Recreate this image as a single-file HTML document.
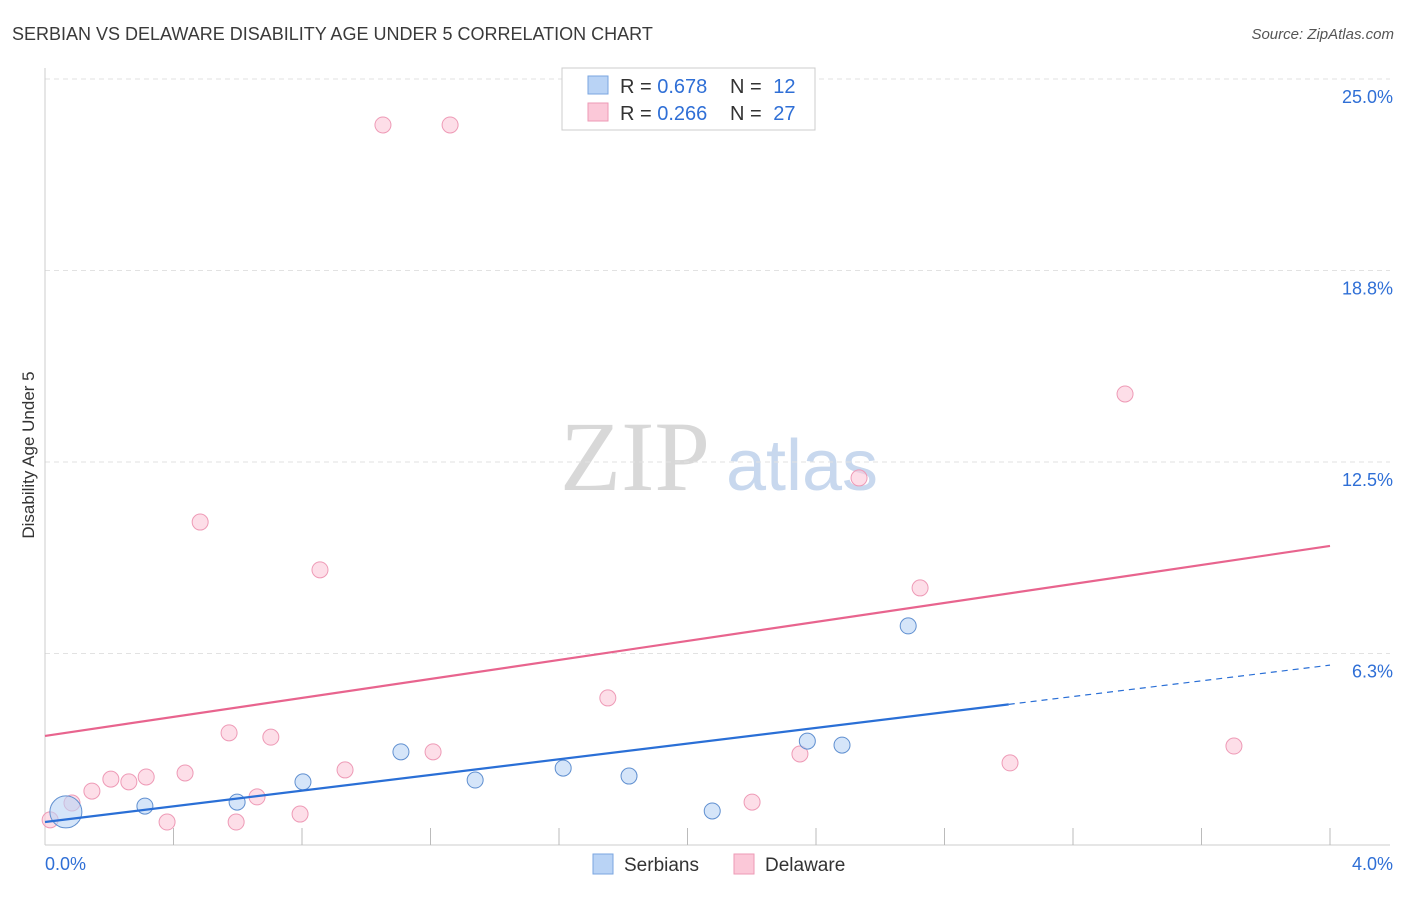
<!DOCTYPE html>
<html><head><meta charset="utf-8"><style>
body{margin:0;background:#fff;font-family:"Liberation Sans",sans-serif}
</style></head><body>
<svg id="c" width="1406" height="892" xmlns="http://www.w3.org/2000/svg" font-family="Liberation Sans, sans-serif">
<text x="12" y="40" font-size="18" fill="#3a3a3a">SERBIAN VS DELAWARE DISABILITY AGE UNDER 5 CORRELATION CHART</text>
<text x="1394" y="39" font-size="15" fill="#555" font-style="italic" text-anchor="end">Source: ZipAtlas.com</text>
<text x="34" y="455" font-size="17" fill="#333" transform="rotate(-90 34 455)" text-anchor="middle">Disability Age Under 5</text>
<g><text x="635" y="490" font-size="100" fill="#d8d8d8" style="font-family:'Liberation Serif',serif" text-anchor="middle">ZIP</text><text x="802" y="490" font-size="72" fill="#c8d8ee" text-anchor="middle">atlas</text></g>
<g id="grid"></g><g id="axes"></g><g id="marks"></g>
<g>
<rect x="562" y="68" width="253" height="62" fill="#fff" stroke="#ccc"/>
<rect x="588" y="76" width="20" height="18" fill="#b9d3f5" stroke="#7aa6e0"/>
<rect x="588" y="103" width="20" height="18" fill="#fbc8d8" stroke="#ee9ab6"/>
<text x="620" y="93" font-size="20" fill="#333">R = <tspan fill="#2f6fd6">0.678</tspan></text>
<text x="730" y="93" font-size="20" fill="#333">N = <tspan dx="6" fill="#2f6fd6">12</tspan></text>
<text x="620" y="120" font-size="20" fill="#333">R = <tspan fill="#2f6fd6">0.266</tspan></text>
<text x="730" y="120" font-size="20" fill="#333">N = <tspan dx="6" fill="#2f6fd6">27</tspan></text>
</g>
<g>
<rect x="593" y="854" width="20" height="20" fill="#b9d3f5" stroke="#7aa6e0"/><text x="624" y="871" font-size="19" fill="#333">Serbians</text>
<rect x="734" y="854" width="20" height="20" fill="#fbc8d8" stroke="#ee9ab6"/><text x="765" y="871" font-size="19" fill="#333">Delaware</text>
</g>
</svg>
<script>
const serbX=[0.065,0.311,0.598,0.803,1.108,1.339,1.613,1.818,2.077,2.373,2.481,2.687];
const serbY=[1.08,1.27,1.40,2.06,3.04,2.12,2.51,2.25,1.11,3.39,3.26,7.15];
const delX=[0.016,0.084,0.146,0.205,0.261,0.315,0.380,0.436,0.483,0.573,0.595,0.660,0.703,0.794,0.856,0.934,1.052,1.208,1.261,1.752,2.201,2.350,2.534,2.724,3.004,3.362,3.701];
const delY=[0.82,1.37,1.76,2.15,2.06,2.22,0.75,2.35,10.54,3.66,0.75,1.57,3.52,1.01,8.98,2.45,23.5,3.04,23.5,4.80,1.40,2.97,11.98,8.39,2.68,14.72,3.23];
const yTicks=[6.25,12.5,18.75,25];
const yTickLabels=["6.3%","12.5%","18.8%","25.0%"];
const serbLine=[0.75,5.87];
const delLine=[3.56,9.76];
const NS="http://www.w3.org/2000/svg";
const X=v=>45+v/4*1285, Y=v=>845-v/6.25*191.5;
function mk(t,a,p){const e=document.createElementNS(NS,t);for(const k in a)e.setAttribute(k,a[k]);document.getElementById(p).appendChild(e);return e;}
yTicks.forEach((t,i)=>{
 const g=mk('line',{x1:45,x2:1390,y1:Y(t),y2:Y(t),stroke:'#e2e2e2','stroke-dasharray':'5,4'},'grid');
 
 
 const l=mk('text',{x:1393,y:Y(t)+24,'font-size':18,fill:'#2f6fd6','text-anchor':'end'},'axes');l.textContent=yTickLabels[i];
 
 
});
const ax=mk('line',{x1:45,x2:45,y1:68,y2:845,stroke:'#ccc'},'axes');


const bx=mk('line',{x1:45,x2:1390,y1:845,y2:845,stroke:'#ccc'},'axes');


for(let i=1;i<=10;i++){const t=mk('line',{x1:X(i*0.4),x2:X(i*0.4),y1:828,y2:845,stroke:'#bbb'},'axes');
 
 }
[["0.0%",45,'start'],["4.0%",1393,'end']].forEach(d=>{const t=mk('text',{x:d[1],y:870,'font-size':18,fill:'#2f6fd6','text-anchor':d[2]},'axes');t.textContent=d[0];
 
 });
delX.forEach((x,i)=>{const c=mk('circle',{cx:X(x),cy:Y(delY[i]),r:8,fill:'#fbc8d8','fill-opacity':0.6,stroke:'#ee9ab6'},'marks');
 
 });
serbX.forEach((x,i)=>{const c=mk('circle',{cx:X(x),cy:Y(serbY[i]),r:i==0?16:8,fill:'#b9d3f5','fill-opacity':0.6,stroke:'#5f8fd0'},'marks');
 
 });
const sl=v=>serbLine[0]+(serbLine[1]-serbLine[0])*v/4;
const l1=mk('line',{x1:X(0),y1:Y(sl(0)),x2:X(3),y2:Y(sl(3)),stroke:'#2a6fd6','stroke-width':2.2},'marks');


const l2=mk('line',{x1:X(3),y1:Y(sl(3)),x2:X(4),y2:Y(sl(4)),stroke:'#2a6fd6','stroke-width':1.2,'stroke-dasharray':'6,5'},'marks');


const l3=mk('line',{x1:X(0),y1:Y(delLine[0]),x2:X(4),y2:Y(delLine[1]),stroke:'#e8648e','stroke-width':2.2},'marks');


</script>
</body></html>
